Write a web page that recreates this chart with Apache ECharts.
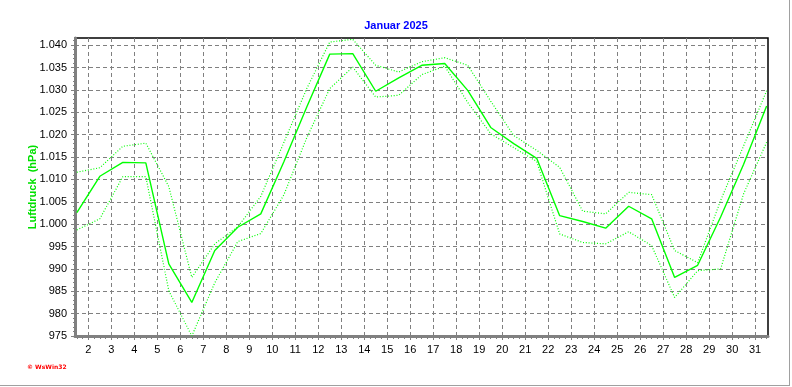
<!DOCTYPE html>
<html>
<head>
<meta charset="utf-8">
<script src="https://cdn.jsdelivr.net/npm/echarts@6/dist/echarts.min.js"></script>
<style>
  html, body { margin: 0; padding: 0; background: #fff; }
  #chart { width: 792px; height: 387px; }
</style>
</head>
<body>
<div id="chart"></div>
<script>
// Tage im Januar 2025, Werte je Tag (Mittag)
const days = [1, 2, 3, 4, 5, 6, 7, 8, 9, 10, 11, 12, 13, 14, 15, 16,
  17, 18, 19, 20, 21, 22, 23, 24, 25, 26, 27, 28, 29, 30, 31];
// Tagesmittel (hPa)
const mittel = [1002.6, 1010.7, 1013.8, 1013.7, 991.1, 982.5, 994.1, 999.3, 1002.3, 1013.9,
  1026.2, 1038.0, 1038.1, 1029.7, 1032.7, 1035.5, 1035.9, 1029.9, 1021.6, 1018.0,
  1014.7, 1001.9, 1000.6, 999.1, 1004.0, 1001.2, 988.1, 990.8, 1001.6, 1013.4, 1026.4];
// Tagesmaximum
const maximum = [1011.6, 1012.6, 1017.4, 1018.1, 1008.4, 988.1, 995.6, 999.4, 1006.2, 1018.2,
  1030.3, 1040.7, 1041.3, 1035.5, 1034.0, 1036.3, 1037.2, 1035.5, 1027.5, 1019.8,
  1016.5, 1012.7, 1002.9, 1002.3, 1007.1, 1006.6, 994.1, 991.4, 1005.3, 1017.5, 1029.8];
// Tagesminimum
const minimum = [998.7, 1001.2, 1010.6, 1010.6, 985.1, 975.0, 986.9, 996.1, 997.9, 1006.5,
  1019.3, 1030.3, 1035.1, 1028.4, 1028.8, 1033.4, 1035.3, 1027.2, 1020.2, 1017.1,
  1014.0, 997.8, 995.9, 995.6, 998.3, 995.2, 983.6, 989.6, 990.0, 1006.8, 1018.3];
const xTicks = [2, 3, 4, 5, 6, 7, 8, 9, 10, 11, 12, 13, 14, 15, 16, 17, 18, 19, 20, 21,
  22, 23, 24, 25, 26, 27, 28, 29, 30, 31];
const yTicks = [975, 980, 985, 990, 995, 1000, 1005, 1010, 1015, 1020, 1025, 1030, 1035, 1040];

const X_MIN = 1.42, X_MAX = 31.56, Y_MIN = 975, Y_MAX = 1041.6;

// Kleine Teilstriche (6 h bzw. 1 hPa)
const xMinor = [];
for (let v = 1.5; v <= X_MAX; v += 0.25) xMinor.push(v);
const yMinor = [];
for (let v = Y_MIN; v <= Y_MAX; v += 1) yMinor.push(v);

const pairs = (vals) => days.map((d, i) => [d + 0.5, vals[i]]);
const green = '#00ff00';
const fmtHpa = (v) => v >= 1000 ? '1.' + String(v - 1000).padStart(3, '0') : String(v);

const myChart = echarts.init(document.getElementById('chart'));
const option = {
  animation: false,
  title: {
    text: 'Januar 2025',
    left: 'center',
    top: 15,
    textStyle: { color: '#0000ff', fontSize: 11, fontWeight: 'bold', fontFamily: 'Liberation Sans, Arial' }
  },
  grid: {
    left: 75, right: 24, top: 38, bottom: 51,
    show: true, borderColor: '#000', borderWidth: 1.5, backgroundColor: '#fff'
  },
  xAxis: [
    {
      type: 'value', min: X_MIN, max: X_MAX,
      axisLine: { lineStyle: { color: '#808080', width: 3 } },
      axisTick: { customValues: xTicks, length: 4, lineStyle: { color: '#808080' } },
      axisLabel: { customValues: xTicks, color: '#000', fontSize: 11, margin: 8, fontFamily: 'Liberation Sans, Arial' },
      splitLine: { show: true, lineStyle: { color: '#808080', type: [4, 3], width: 1 } }
    },
    {
      type: 'value', min: X_MIN, max: X_MAX, position: 'bottom',
      axisLine: { show: false },
      axisTick: { customValues: xMinor, length: 3, lineStyle: { color: '#808080' } },
      axisLabel: { show: false },
      splitLine: { show: false }
    }
  ],
  yAxis: [
    {
      type: 'value', min: Y_MIN, max: Y_MAX,
      name: 'Luftdruck  (hPa)',
      nameLocation: 'middle',
      nameGap: 37,
      nameMoveOverlap: false,
      nameTextStyle: { color: '#00e000', fontWeight: 'bold', fontSize: 11, fontFamily: 'Liberation Sans, Arial' },
      axisLine: { show: true, lineStyle: { color: '#808080', width: 3 } },
      axisTick: { show: true, customValues: yTicks, length: 4, lineStyle: { color: '#808080' } },
      axisLabel: { customValues: yTicks, formatter: fmtHpa, color: '#000', fontSize: 11, margin: 8, fontFamily: 'Liberation Sans, Arial' },
      splitLine: { show: true, lineStyle: { color: '#808080', type: [4, 3], width: 1 } }
    },
    {
      type: 'value', min: Y_MIN, max: Y_MAX, position: 'left',
      axisLine: { show: false },
      axisTick: { show: true, customValues: yMinor, length: 2, lineStyle: { color: '#808080' } },
      axisLabel: { show: false },
      splitLine: { show: false }
    }
  ],
  series: [
    {
      name: 'Maximum', type: 'line', data: pairs(maximum), symbol: 'none',
      lineStyle: { color: green, width: 1.2, type: [1, 1.8] }, z: 3
    },
    {
      name: 'Minimum', type: 'line', data: pairs(minimum), symbol: 'none',
      lineStyle: { color: green, width: 1.2, type: [1, 1.8] }, z: 3
    },
    {
      name: 'Mittel', type: 'line', data: pairs(mittel), symbol: 'none',
      lineStyle: { color: green, width: 1.4 }, z: 4
    }
  ],
  graphic: [
    {
      type: 'text', left: 27, top: 364,
      style: { text: '© WsWin32', fill: '#ff0000', font: 'bold 6px DejaVu Sans' }
    },
    { type: 'line', shape: { x1: 0, y1: 385.5, x2: 790, y2: 385.5 }, style: { stroke: '#a0a0a0', lineWidth: 1 } },
    { type: 'line', shape: { x1: 789.5, y1: 0, x2: 789.5, y2: 386 }, style: { stroke: '#a0a0a0', lineWidth: 1 } }
  ]
};
option && myChart.setOption(option);
</script>
</body>
</html>
